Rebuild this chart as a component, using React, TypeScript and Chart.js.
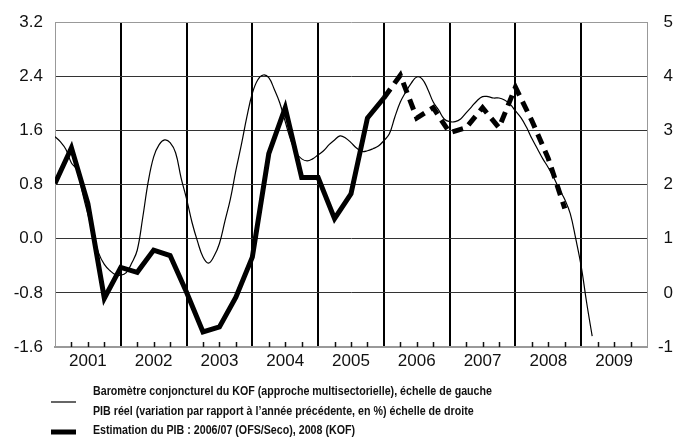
import React, { useEffect, useRef } from "react";
import { Chart, registerables } from "chart.js";

Chart.register(...registerables);

const years = ["2001", "2002", "2003", "2004", "2005", "2006", "2007", "2008", "2009"];
const leftTicks = [-1.6, -0.8, 0.0, 0.8, 1.6, 2.4, 3.2];
const rightTicks = [-1, 0, 1, 2, 3, 4, 5];

// KOF barometer, monthly from Jan 2001 (left scale)
const kofMonthly = [
  1.51, 1.43, 1.32, 1.12, 1.02, 0.68, 0.36, 0.06, -0.22, -0.38, -0.47, -0.53,
  -0.54, -0.5, -0.36, -0.17, 0.31, 0.84, 1.21, 1.39, 1.46, 1.42, 1.27, 0.9,
  0.59, 0.24, -0.04, -0.27, -0.36, -0.26, -0.07, 0.26, 0.59, 1.01, 1.39, 1.8,
  2.15, 2.35, 2.42, 2.38, 2.21, 2.01, 1.73, 1.46, 1.27, 1.18, 1.15, 1.18,
  1.24, 1.3, 1.39, 1.46, 1.52, 1.49, 1.42, 1.34, 1.29, 1.3, 1.33, 1.37,
  1.45, 1.55, 1.8, 2.02, 2.17, 2.3, 2.39, 2.36, 2.21, 2.02, 1.9, 1.77,
  1.73, 1.73, 1.77, 1.86, 1.95, 2.04, 2.1, 2.1, 2.08, 2.08, 2.05, 1.99,
  1.89, 1.79, 1.65, 1.48, 1.33, 1.18, 1.05, 0.9, 0.73, 0.58, 0.37, 0.0,
  -0.41, -0.95, -1.44,
];

// Real GDP, quarterly (right scale), quarters 0..20
const gdpReal = [
  2.02, 2.68, 1.65, -0.1, 0.47, 0.38, 0.79, 0.69, 0.01, -0.72, -0.63, -0.08,
  0.66, 2.57, 3.42, 2.13, 2.13, 1.37, 1.83, 3.23, 3.6,
];

// GDP estimate, quarterly (right scale), quarters 20..31
const gdpEstimateStart = 20;
const gdpEstimate = [3.6, 4.02, 3.23, 3.42, 2.96, 3.05, 3.42, 3.05, 3.8, 3.18, 2.48, 1.56];

const legendLabels = [
  "Baromètre conjoncturel du KOF (approche multisectorielle), échelle de gauche",
  "PIB réel (variation par rapport à l’année précédente, en %) échelle de droite",
  "Estimation du PIB : 2006/07 (OFS/Seco), 2008 (KOF)",
];

const FONT = '"Liberation Sans", Arial, sans-serif';

const decorPlugin = {
  id: "decor",
  afterDraw(chart: any) {
    const { ctx, chartArea, scales } = chart;
    const xs = scales.x;
    ctx.save();
    // quarter tick marks inside plot
    ctx.strokeStyle = "#111";
    ctx.lineWidth = 1.5;
    for (let v = 1; v < 36; v++) {
      if (v % 4 === 0) continue;
      const px = Math.round(xs.getPixelForValue(v)) + 0.5;
      ctx.beginPath();
      ctx.moveTo(px, chartArea.bottom - 5);
      ctx.lineTo(px, chartArea.bottom);
      ctx.stroke();
    }
    // legend
    const textX = 93;
    const rows = [392, 412, 431];
    ctx.fillStyle = "#111";
    ctx.font = `bold 12.5px ${FONT}`;
    ctx.textBaseline = "middle";
    ctx.textAlign = "left";
    const w0 = ctx.measureText(legendLabels[0]).width;
    const sc = w0 > 0 ? 399 / w0 : 1;
    legendLabels.forEach((t, i) => {
      ctx.save();
      ctx.translate(textX, rows[i]);
      ctx.scale(sc, 1);
      ctx.fillText(t, 0, 0);
      ctx.restore();
    });
    const sx0 = 51;
    const sx1 = 76;
    ctx.strokeStyle = "#000";
    ctx.lineWidth = 1.2;
    ctx.beginPath();
    ctx.moveTo(sx0, 402);
    ctx.lineTo(sx1, 402);
    ctx.stroke();
    ctx.lineWidth = 5;
    ctx.beginPath();
    ctx.moveTo(sx0, 432);
    ctx.lineTo(sx1, 432);
    ctx.stroke();
    ctx.setLineDash([9, 9]);
    ctx.beginPath();
    ctx.moveTo(sx0, 446);
    ctx.lineTo(sx1 + 1, 446);
    ctx.stroke();
    ctx.restore();
  },
};

export default function App() {
  const ref = useRef<HTMLCanvasElement | null>(null);

  useEffect(() => {
    if (!ref.current) return;
    const kofData = kofMonthly.map((v, m) => ({ x: m / 3, y: v }));
    const gdpData = gdpReal.map((v, q) => ({ x: q, y: v }));
    const estData = gdpEstimate.map((v, i) => ({ x: gdpEstimateStart + i, y: v }));

    const chart = new Chart(ref.current, {
      type: "line",
      data: {
        datasets: [
          {
            label: legendLabels[0],
            data: kofData,
            yAxisID: "y",
            borderColor: "#000",
            borderWidth: 1.2,
            pointRadius: 0,
            tension: 0.4,
            fill: false,
          },
          {
            label: legendLabels[1],
            data: gdpData,
            yAxisID: "y1",
            borderColor: "#000",
            borderWidth: 5,
            pointRadius: 0,
            tension: 0,
            borderJoinStyle: "miter",
            fill: false,
          },
          {
            label: legendLabels[2],
            data: estData,
            yAxisID: "y1",
            borderColor: "#000",
            borderWidth: 5,
            borderDash: [11, 7],
            pointRadius: 0,
            tension: 0,
            borderJoinStyle: "miter",
            fill: false,
          },
        ],
      },
      options: {
        animation: false,
        responsive: false,
        devicePixelRatio: 1,
        layout: { padding: { top: 21, bottom: 66, left: 0, right: 0 } },
        plugins: { legend: { display: false }, tooltip: { enabled: false } },
        scales: {
          x: {
            type: "linear",
            min: 0,
            max: 36,
            afterFit: (s: any) => {
              s.height = 30;
            },
            afterBuildTicks: (s: any) => {
              const t = [];
              for (let v = 0; v <= 36; v++) t.push({ value: v });
              s.ticks = t;
            },
            ticks: {
              autoSkip: false,
              maxRotation: 0,
              padding: 4,
              color: "#111",
              font: { family: FONT, size: 17 },
              callback: (v: any) => {
                const n = Number(v);
                return n % 4 === 2 ? years[(n - 2) / 4] : "";
              },
            },
            grid: {
              drawTicks: false,
              color: (c: any) => {
                const v = c.tick ? c.tick.value : -1;
                return v % 4 === 0 && v > 0 && v < 36 ? "#000" : "rgba(0,0,0,0)";
              },
              lineWidth: 2,
            },
            border: { display: true, color: "#999", width: 2 },
          },
          y: {
            position: "left",
            min: -1.6,
            max: 3.2,
            afterFit: (s: any) => {
              s.width = 55;
            },
            afterBuildTicks: (s: any) => {
              s.ticks = leftTicks.map((v) => ({ value: v }));
            },
            ticks: {
              padding: 12,
              color: "#111",
              font: { family: FONT, size: 17 },
              callback: (v: any) => Number(v).toFixed(1),
            },
            grid: {
              drawTicks: false,
              color: (c: any) => (c.index === leftTicks.length - 1 ? "#999" : "#333"),
              lineWidth: 1,
            },
            border: { display: true, color: "#999", width: 1 },
          },
          y1: {
            position: "right",
            min: -1,
            max: 5,
            afterFit: (s: any) => {
              s.width = 26;
            },
            afterBuildTicks: (s: any) => {
              s.ticks = rightTicks.map((v) => ({ value: v }));
            },
            ticks: {
              padding: 12,
              crossAlign: "far",
              color: "#111",
              font: { family: FONT, size: 17 },
              callback: (v: any) => String(v),
            },
            grid: { drawOnChartArea: false, drawTicks: false },
            border: { display: true, color: "#999", width: 1 },
          },
        },
      },
      plugins: [decorPlugin],
    });
    return () => chart.destroy();
  }, []);

  return (
    <div style={{ position: "absolute", left: 0, top: 0, width: 673, height: 443, background: "#fff" }}>
      <canvas ref={ref} width={673} height={443} style={{ width: 673, height: 443, display: "block" }} />
    </div>
  );
}
